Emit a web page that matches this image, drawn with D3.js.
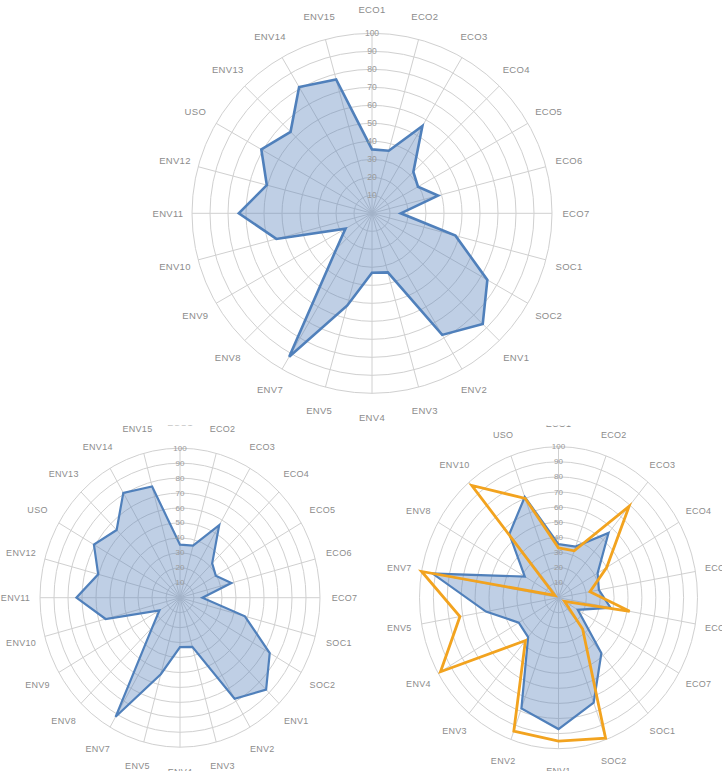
<!DOCTYPE html>
<html>
  <head>
    <meta charset="utf-8" />
    <title>Radar</title>
    <script src="https://d3js.org/d3.v7.min.js"></script>
    <style>
      body { margin: 0; background: #fff; }
      text { font-family: 'Liberation Sans', Arial, sans-serif; }
    </style>
  </head>
  <body>
    <script>
      // categories of the full chart (top and bottom left)
      var catsFull = ['ECO1', 'ECO2', 'ECO3', 'ECO4', 'ECO5', 'ECO6', 'ECO7', 'SOC1', 'SOC2', 'ENV1', 'ENV2', 'ENV3',
        'ENV4', 'ENV5', 'ENV7', 'ENV8', 'ENV9', 'ENV10', 'ENV11', 'ENV12', 'USO', 'ENV13', 'ENV14', 'ENV15'];
      var valsFull = [35.5, 36, 56, 32.5, 29.5, 38, 16, 48, 74, 87, 78, 34,
        33, 53, 92, 28, 17, 55, 74, 60.5, 71, 64, 81, 77];

      // categories of the reduced chart (bottom right)
      var catsSub = ['ECO1', 'ECO2', 'ECO3', 'ECO4', 'ECO5', 'ECO6', 'ECO7', 'SOC1', 'SOC2',
        'ENV1', 'ENV2', 'ENV3', 'ENV4', 'ENV5', 'ENV7', 'ENV8', 'ENV10', 'USO'];
      var valsSubOrange = [33, 33, 79, 40, 23, 52, 5, 27, 99,
        95, 94, 37, 98, 72, 100, 3, 97, 70];

      var radialTicks = [10, 20, 30, 40, 50, 60, 70, 80, 90, 100];

      var blue = '#5080bb';
      var orange = '#f2a31f';

      var svg = d3.select('body').append('svg').attr('width', 722).attr('height', 771);

      svg.append('clipPath').attr('id', 'cut')
        .append('rect').attr('x', 0).attr('y', 425.5).attr('width', 722).attr('height', 400);

      function radar(g, o) {
        var n = o.cats.length;
        var ang = d3.scaleLinear().domain([0, n]).range([0, 2 * Math.PI]);
        var r = d3.scaleLinear().domain([0, 100]).range([0, 1]);
        var px = function (i, v) { return o.rx * r(v) * Math.sin(ang(i)); };
        var py = function (i, v) { return -o.ry * r(v) * Math.cos(ang(i)); };

        g = g.append('g').attr('transform', 'translate(' + o.cx + ',' + o.cy + ')');

        g.selectAll('.ring').data(radialTicks).enter().append('ellipse')
          .attr('rx', function (d) { return o.rx * r(d); })
          .attr('ry', function (d) { return o.ry * r(d); })
          .attr('fill', 'none').attr('stroke', '#d0d0d0').attr('stroke-width', 1);

        g.selectAll('.spoke').data(o.cats).enter().append('line')
          .attr('x1', 0).attr('y1', 0)
          .attr('x2', function (d, i) { return px(i, 100); })
          .attr('y2', function (d, i) { return py(i, 100); })
          .attr('stroke', '#d0d0d0').attr('stroke-width', 1);

        var line = d3.line()
          .x(function (d, i) { return px(i, d); })
          .y(function (d, i) { return py(i, d); })
          .curve(d3.curveLinearClosed);

        o.series.forEach(function (s) {
          g.append('path').datum(s.values)
            .attr('d', line)
            .attr('fill', s.fill || 'none')
            .attr('fill-opacity', s.fill ? 0.4 : 0)
            .attr('stroke', s.color)
            .attr('stroke-width', s.width)
            .attr('stroke-linejoin', 'miter');
        });

        g.selectAll('.tick').data(radialTicks).enter().append('text')
          .attr('x', 0)
          .attr('y', function (d) { return -o.ry * r(d); })
          .attr('text-anchor', 'middle')
          .attr('dominant-baseline', 'central')
          .style('font-size', o.tickSize + 'px')
          .attr('fill', '#9a9a9a')
          .text(function (d) { return d; });

        g.selectAll('.lab').data(o.cats).enter().append('text')
          .attr('x', function (d, i) { return o.lrx * Math.sin(ang(i)); })
          .attr('y', function (d, i) { return -o.lry * Math.cos(ang(i)); })
          .attr('text-anchor', 'middle')
          .attr('dominant-baseline', 'central')
          .style('font-size', o.fontSize + 'px')
          .style('letter-spacing', '0.3px')
          .attr('fill', '#8c8c8c')
          .text(function (d) { return d; });
      }

      // top chart
      radar(svg, {
        cx: 372, cy: 213.3, rx: 180, ry: 180, lrx: 204, lry: 204,
        cats: catsFull, fontSize: 9.5, tickSize: 8.5,
        series: [{ values: valsFull, color: blue, fill: '#5e86bf', width: 2.6 }]
      });

      // bottom left chart, same data
      var bl = svg.append('g').attr('clip-path', 'url(#cut)');
      radar(bl, {
        cx: 180, cy: 597.7, rx: 140, ry: 149.5, lrx: 164.5, lry: 174.5,
        cats: catsFull, fontSize: 9, tickSize: 8,
        series: [{ values: valsFull, color: blue, fill: '#5e86bf', width: 2.2 }]
      });

      // bottom right chart
      var valsSubBlue = catsSub.map(function (c) { return valsFull[catsFull.indexOf(c)]; });
      var br = svg.append('g').attr('clip-path', 'url(#cut)');
      radar(br, {
        cx: 558.5, cy: 597.7, rx: 139, ry: 151, lrx: 161.7, lry: 173.5,
        cats: catsSub, fontSize: 9, tickSize: 8,
        series: [
          { values: valsSubBlue, color: blue, fill: '#5e86bf', width: 2.2 },
          { values: valsSubOrange, color: orange, width: 2.8 }
        ]
      });
    </script>
  </body>
</html>
